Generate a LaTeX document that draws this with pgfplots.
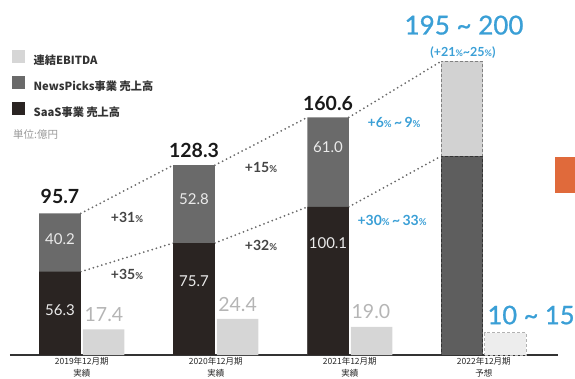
\documentclass[border=0pt]{standalone}
\usepackage{pgfplots}
\pgfplotsset{compat=1.18}
\usepackage{pgfplotstable}
\usepackage{fontspec}
\setmainfont{Lato}
\newfontfamily\latom[FakeBold=0.9]{Lato}
\newfontfamily\jp{Noto Sans CJK JP}
\definecolor{saas}{HTML}{2A2422}
\definecolor{np}{HTML}{6A6A6A}
\definecolor{ebitda}{HTML}{D6D6D6}
\definecolor{fdark}{HTML}{5E5E5E}
\definecolor{flight}{HTML}{D2D2D2}
\definecolor{fe}{HTML}{EDEDED}
\definecolor{blu}{HTML}{3A9FD6}
\definecolor{gtxt}{HTML}{444444}
\definecolor{etxt}{HTML}{B5B5B5}
\definecolor{dotc}{HTML}{6A6A6A}
\definecolor{orng}{HTML}{E06A3B}
\newcommand{\fs}[2]{\fontsize{#1}{#2}\selectfont}
\newcommand{\pc}{{\fs{9.5}{10}\%}}
\newcommand{\tl}{\textasciitilde}

\pgfplotstableread{
x saas np total ebitdax ebitda
0 56.3 40.2 95.7 0.325 17.4
1 75.7 52.8 128.3 1.325 24.4
2 100.1 61.0 160.6 2.325 19.0
}\actual
\pgfplotstableread{
x low high ebitdax ebitda
3 134.5 198.6 3.325 15
}\forecast

\begin{document}
\begin{tikzpicture}
\begin{axis}[name=ax, scale only axis, width=548pt, height=355pt,
  xmin=-0.373, xmax=3.716, ymin=0, ymax=240,
  axis x line=bottom, axis y line=none,
  x axis line style={-, draw=black!80, line width=1.3pt},
  xtick={0.1625,1.1625,2.1625,3.1625},
  xticklabels={{2019年12月期\\実績},{2020年12月期\\実績},{2021年12月期\\実績},{2022年12月期\\予想}},
  xticklabel style={font=\jp\fs{8.5}{11.2}, align=center, text=black!85, inner sep=1pt, yshift=-1.5pt},
  major tick length=0pt,
  clip=false,
  legend style={at={(rel axis cs:0.0036,0.859)}, anchor=north west, draw=none, fill=none, inner sep=0pt, font=\jp\bfseries\fs{11.2}{13}, text=black!80, row sep=10pt, column sep=9pt, nodes={inner sep=0pt}},
  legend cell align=left,
  legend image code/.code={\fill[#1, draw=none] (0pt,-2pt) rectangle (12.5pt,10.5pt);},
  mybar/.style={ybar, bar width=0.31, bar shift=0pt, forget plot},
  dotl/.style={draw=dotc, line width=2pt, line cap=round, dash pattern=on 0pt off 4.4pt, no markers, forget plot},
]
\addlegendimage{fill=ebitda}\addlegendentry{連結EBITDA}
\addlegendimage{fill=np}\addlegendentry{NewsPicks事業 売上高}
\addlegendimage{fill=saas}\addlegendentry{SaaS事業 売上高}

% dotted growth connectors
\addplot[dotl] coordinates {(0.155,95.7) (0.845,128.3)};
\addplot[dotl] coordinates {(0.155,56.3) (0.845,75.7)};
\addplot[dotl] coordinates {(1.155,128.3) (1.845,160.6)};
\addplot[dotl] coordinates {(1.155,75.7) (1.845,100.1)};
\addplot[dotl] coordinates {(2.155,160.6) (2.845,198.6)};
\addplot[dotl] coordinates {(2.155,100.1) (2.845,134.5)};

% actual bars
\addplot[mybar, fill=np, draw=none] table[x=x, y=total] {\actual};
\addplot[mybar, fill=saas, draw=none] table[x=x, y=saas] {\actual};
\addplot[mybar, fill=ebitda, draw=none] table[x=ebitdax, y=ebitda] {\actual};
% forecast bars
\addplot[mybar, fill=flight, draw=black!50, line width=1pt, dash pattern=on 3pt off 2pt] table[x=x, y=high] {\forecast};
\addplot[mybar, fill=fdark, draw=black!80, line width=1pt, dash pattern=on 3pt off 2pt] table[x=x, y=low] {\forecast};
\addplot[mybar, fill=fe, draw=black!30, line width=1pt, dash pattern=on 3pt off 2pt] table[x=ebitdax, y=ebitda] {\forecast};

% totals
\node[font=\bfseries\fs{19.5}{20}, text=black!90] at (axis cs:0,107) {95.7};
\node[font=\bfseries\fs{19.5}{20}, text=black!90] at (axis cs:1,138.5) {128.3};
\node[font=\bfseries\fs{19.5}{20}, text=black!90] at (axis cs:2,169.9) {160.6};
\node[font=\latom\fs{26}{28}, text=blu] at (axis cs:3.015,223) {195 \tl\ 200};
\node[font=\bfseries\fs{12.5}{13}, text=blu] at (axis cs:3.007,204.7) {(+21{\fs{9}{9}\%}\tl25{\fs{9}{9}\%})};
% segment values
\node[font=\fs{15}{15}, text=white!92!black] at (axis cs:0,78.4) {40.2};
\node[font=\fs{15}{15}, text=white!92!black] at (axis cs:0,30.4) {56.3};
\node[font=\fs{15}{15}, text=white!92!black] at (axis cs:1,105.4) {52.8};
\node[font=\fs{15}{15}, text=white!92!black] at (axis cs:1,50) {75.7};
\node[font=\fs{15}{15}, text=white!92!black] at (axis cs:2,140.5) {61.0};
\node[font=\fs{15}{15}, text=white!92!black] at (axis cs:2,75.7) {100.1};
% EBITDA values
\node[font=\fs{19.5}{20}, text=etxt] at (axis cs:0.328,27) {17.4};
\node[font=\fs{19.5}{20}, text=etxt] at (axis cs:1.325,34.1) {24.4};
\node[font=\fs{19.5}{20}, text=etxt] at (axis cs:2.32,29.7) {19.0};
\node[font=\latom\fs{25.5}{26}, text=blu] at (axis cs:3.515,27) {10 \tl\ 15};
% growth rates
\node[font=\bfseries\fs{14}{14}, text=gtxt] at (axis cs:0.5,93.2) {+31\pc};
\node[font=\bfseries\fs{14}{14}, text=gtxt] at (axis cs:0.5,54.7) {+35\pc};
\node[font=\bfseries\fs{14}{14}, text=gtxt] at (axis cs:1.5,127) {+15\pc};
\node[font=\bfseries\fs{14}{14}, text=gtxt] at (axis cs:1.5,74.3) {+32\pc};
\node[font=\bfseries\fs{14}{14}, text=blu] at (axis cs:2.493,157.4) {+6\pc\,\tl\,9\pc};
\node[font=\bfseries\fs{14}{14}, text=blu] at (axis cs:2.478,91.2) {+30\pc\,\tl\,33\pc};
% unit
\node[font=\jp\fs{10.5}{11}, text=black!40, anchor=west, inner sep=0pt] at (axis cs:-0.351,149.3) {単位:億円};
% cropped orange block at right edge
\fill[orng] (axis cs:3.694,109.5) rectangle (axis cs:3.85,133.8);
\end{axis}
\pgfresetboundingbox
\path ([xshift=-10pt,yshift=-23pt]ax.south west) rectangle ([xshift=17pt]ax.north east);
\end{tikzpicture}
\end{document}
